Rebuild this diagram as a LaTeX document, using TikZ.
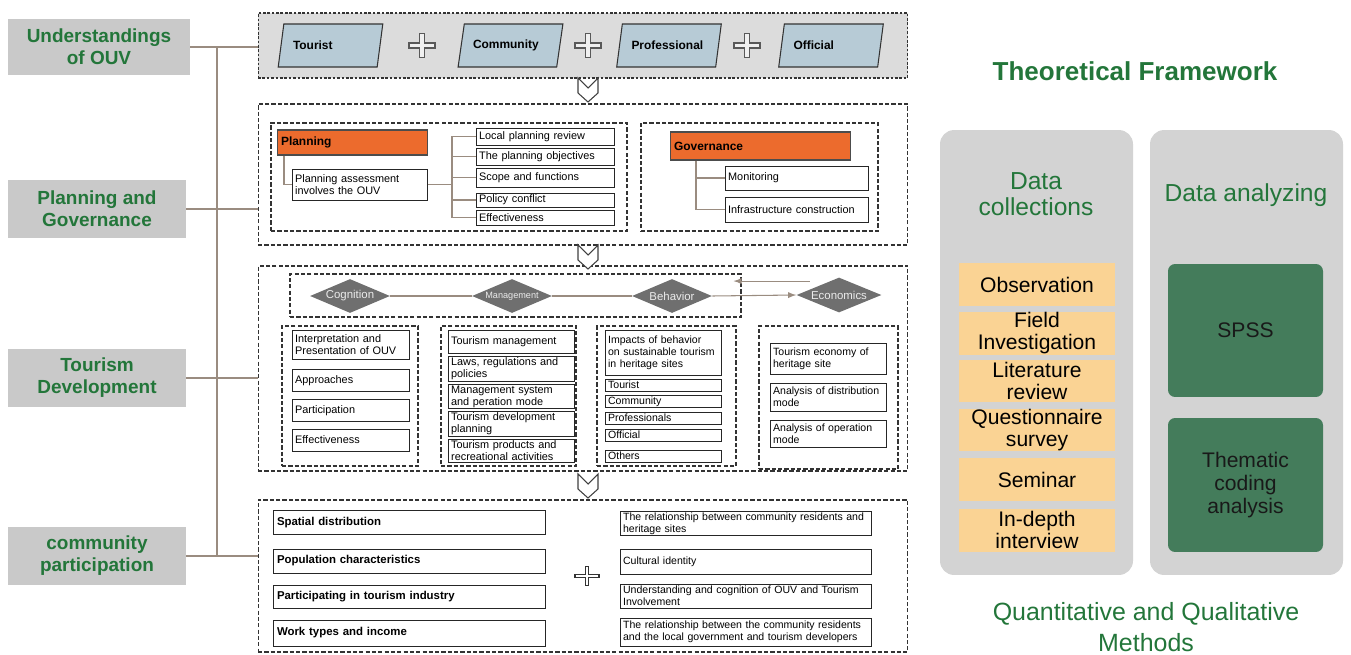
\documentclass[tikz,border=0pt]{standalone}
\usepackage{fontspec}
\setmainfont{Liberation Sans}
\usetikzlibrary{shapes.geometric}
\hyphenpenalty=10000
\exhyphenpenalty=10000

\definecolor{lblgray}{HTML}{C9C9C9}
\definecolor{lblgreen}{HTML}{23763A}
\definecolor{toptint}{HTML}{DCDCDC}
\definecolor{parafill}{HTML}{B7CBD6}
\definecolor{hdorange}{HTML}{EC6B2D}
\definecolor{diagray}{HTML}{6F6F6F}
\definecolor{linkc}{HTML}{9A8C80}
\definecolor{panelgray}{HTML}{D3D3D3}
\definecolor{methorange}{HTML}{FAD394}
\definecolor{methgreen}{HTML}{447C5B}

\begin{document}
\begin{tikzpicture}[x=0.02cm,y=-0.02cm]
        \tikzset{
        lbl/.style={fill=lblgray, text=lblgreen, align=center, inner sep=0pt,
        minimum width=3.56cm, minimum height=1.16cm,
        font=\fontsize{10.8}{12.5}\selectfont\bfseries},
        grp/.style={draw=black!80, line width=0.6pt, dash pattern=on 2.4pt off 1.2pt, inner sep=0pt},
        para/.style={trapezium, trapezium left angle=77, trapezium right angle=103,
        trapezium stretches=true, draw=black!80, line width=0.6pt, fill=parafill,
        minimum width=2.1cm, minimum height=0.86cm, inner xsep=1pt,
        text width=1.5cm, align=left, font=\fontsize{6.8}{8}\selectfont\bfseries},
        hd/.style={fill=hdorange, draw=black!70, line width=0.6pt, anchor=west, align=left,
        inner xsep=2pt, minimum height=0.5cm, font=\fontsize{6.8}{8}\selectfont\bfseries},
        cell/.style={draw=black!85, line width=0.55pt, fill=white, anchor=west, align=left,
        inner xsep=1.5pt, inner ysep=0.6pt, font=\fontsize{6.2}{6.9}\selectfont},
        scell/.style={cell, font=\fontsize{6}{6.9}\selectfont},
        bcell/.style={cell, inner xsep=2pt, font=\fontsize{6.5}{7.5}\selectfont\bfseries},
        dia/.style={diamond, aspect=2.35, fill=diagray, text=black!8, inner sep=0pt,
        minimum width=1.6cm, minimum height=0.68cm, font=\fontsize{6.5}{7}\selectfont},
        tree/.style={draw=linkc, line width=0.6pt},
        trunk/.style={draw=linkc, line width=0.7pt},
        plusc/.style={draw=black!65, fill=black!6, line width=0.6pt},
        chev/.style={draw=black!75, fill=white, line width=0.6pt, line join=miter},
        pan/.style={fill=panelgray, rounded corners=8pt, minimum width=3.86cm, minimum height=8.9cm},
        ttl/.style={text=lblgreen, align=center, font=\fontsize{14}{14.7}\selectfont},
        mo/.style={fill=methorange, minimum width=3.12cm, minimum height=0.86cm, inner sep=0pt,
        align=center, font=\fontsize{12}{12.5}\selectfont},
        mg/.style={fill=methgreen, rounded corners=4pt, minimum width=3.1cm, inner sep=0pt,
        align=center, text=black!90, font=\fontsize{12}{13}\selectfont},
        }
        \useasboundingbox (0,0) rectangle (1351,655);

        % left labels
        \node[lbl, minimum width=3.64cm, minimum height=1.12cm] (und) at (99,47) {Understandings\\of OUV};
        \node[lbl] (plg) at (97,209) {Planning and\\Governance};
        \node[lbl] (tdv) at (97,378) {Tourism\\Development};
        \node[lbl] (cpt) at (97,556) {community\\participation};

        % dashed groups
        \node[grp, fill=toptint, dash pattern=on 1.5pt off 1pt, minimum width=13cm, minimum height=1.3cm] (b1) at (583,45.5) {};
        \node[grp, minimum width=13cm, minimum height=2.82cm] (b2) at (583,174.5) {};
        \node[grp, minimum width=13cm, minimum height=4.1cm] (b3) at (583,368.5) {};
        \node[grp, minimum width=13cm, minimum height=3.04cm] (b4) at (583,576) {};

        \coordinate (trk) at (217,0);
        \draw[trunk] (und.east -| trk) -- (cpt.east -| trk);
        \foreach \l/\b in {und/b1,plg/b2,tdv/b3,cpt/b4}
        \draw[trunk] (\l.east) -- (\l.east -| \b.west);

        % chevrons between the groups
        \foreach \y in {78,245,474}
        \draw[chev] (578,\y) -- (588,\y+10) -- (598,\y) -- (598,\y+15) -- (588,\y+24) -- (578,\y+15) -- cycle;

        % understandings
        \node[para] (tour) at (330.5,45.5) {Tourist};
        \node[para] (comm) at (510.5,45.5) {Community};
        \node[para] (prof) at (669,45.5) {Professional};
        \node[para] (offi) at (831,45.5) {Official};
        \foreach \cx in {422,588,747}
        \draw[plusc] (\cx-13,43) -- ++(10.5,0) -- ++(0,-9.5) -- ++(5,0) -- ++(0,9.5) -- ++(10.5,0) -- ++(0,5)
        -- ++(-10.5,0) -- ++(0,9.5) -- ++(-5,0) -- ++(0,-9.5) -- ++(-10.5,0) -- cycle;

        % planning and governance
        \node[grp, line width=0.7pt, minimum width=7.12cm, minimum height=2.16cm] (pbox) at (449,177) {};
        \node[grp, line width=0.7pt, minimum width=4.74cm, minimum height=2.16cm] (gbox) at (759.5,177) {};
        \node[hd, text width=2.86cm] (plan) at (277,142.5) {Planning};
        \node[cell, text width=2.6cm, minimum height=0.62cm] (pa) at (292,184.5) {Planning assessment\\involves the OUV};
        \node[cell, text width=2.66cm, minimum height=0.34cm] (lpr) at (476,136.5) {Local planning review};
        \node[cell, text width=2.66cm, minimum height=0.34cm] (obj) at (476,156.5) {The planning objectives};
        \node[cell, text width=2.66cm, minimum height=0.38cm] (scope) at (476,177.5) {Scope and functions};
        \node[cell, text width=2.66cm, minimum height=0.28cm] (conf) at (476,200) {Policy conflict};
        \node[cell, text width=2.66cm, minimum height=0.3cm] (effp) at (476,217.5) {Effectiveness};
        \coordinate (pk) at (452,0);
        \draw[tree] ([xshift=0.14cm]plan.south west) |- (pa.west);
        \foreach \b in {lpr,obj,scope,conf,effp}
        \draw[tree] (pa.east) -- (pa.east -| pk) |- (\b.west);

        \node[hd, text width=3.46cm, minimum height=0.56cm] (gov) at (670,146) {Governance};
        \node[cell, text width=2.76cm, minimum height=0.48cm] (mon) at (725,178) {Monitoring};
        \node[cell, text width=2.76cm, minimum height=0.5cm] (infra) at (725,209.5) {Infrastructure construction};
        \draw[tree] ([xshift=0.52cm]gov.south west) |- (mon.west);
        \draw[tree] ([xshift=0.52cm]gov.south west) |- (infra.west);

        % tourism development
        \node[grp, line width=0.7pt, minimum width=9.02cm, minimum height=0.86cm] (dbox) at (515.5,295.5) {};
        \node[dia] (cog) at (350,296) {Cognition};
        \node[dia, font=\fontsize{5.2}{6}\selectfont] (mgt) at (512,296) {Management};
        \node[dia] (beh) at (672,296) {Behavior};
        \node[dia, minimum width=1.7cm, minimum height=0.7cm] (eco) at (839,295) {Economics};
        \draw[tree] (cog.east) -- (mgt.west);
        \draw[tree] (mgt.east) -- (beh.west);
        \draw[tree, -latex] (beh.east) -- (eco.west);
        \draw[tree, -latex] ([xshift=-0.16cm,yshift=0.1cm]eco.north west) -- ([xshift=-0.16cm,yshift=0.1cm]eco.north west -| dbox.east);

        \node[grp, line width=0.7pt, minimum width=2.72cm, minimum height=2.8cm] (ccol) at (350,396) {};
        \node[grp, line width=0.7pt, minimum width=2.7cm, minimum height=2.8cm] (mcol) at (508.5,396) {};
        \node[grp, line width=0.7pt, minimum width=2.78cm, minimum height=2.8cm] (bcol) at (666.5,396) {};
        \node[grp, line width=0.7pt, minimum width=2.78cm, minimum height=2.86cm] (ecol) at (828.5,397.5) {};

        \node[cell, text width=2.24cm, minimum height=0.58cm] (ip) at (292,344.5) {Interpretation and\\Presentation of OUV};
        \node[cell, text width=2.24cm, minimum height=0.44cm] (appr) at (292,380.5) {Approaches};
        \node[cell, text width=2.24cm, minimum height=0.44cm] (part) at (292,410.5) {Participation};
        \node[cell, text width=2.24cm, minimum height=0.44cm] (effc) at (292,440) {Effectiveness};

        \node[cell, text width=2.42cm, minimum height=0.46cm] (tm) at (448,341.5) {Tourism management};
        \node[cell, text width=2.42cm, minimum height=0.46cm] (laws) at (448,369) {Laws, regulations and\\policies};
        \node[cell, text width=2.42cm, minimum height=0.46cm] (msys) at (448,396.5) {Management system\\and peration mode};
        \node[cell, text width=2.42cm, minimum height=0.46cm] (tdp) at (448,424) {Tourism development\\planning};
        \node[cell, text width=2.42cm, minimum height=0.46cm] (tpr) at (448,451) {Tourism products and\\recreational activities};

        \node[scell, text width=2.22cm, minimum height=0.9cm] (imp) at (605,352.5) {Impacts of behavior\\on sustainable tourism\\in heritage sites};
        \foreach \y/\t [count=\i] in {385/Tourist,401.5/Community,418/Professionals,435/Official,456/Others}
        \node[scell, text width=2.22cm, minimum height=0.24cm] (act\i) at (605,\y) {\t};

        \node[scell, text width=2.22cm, minimum height=0.62cm] (tec) at (770,358.5) {Tourism economy of\\heritage site};
        \node[scell, text width=2.22cm, minimum height=0.56cm] (adm) at (770,397) {Analysis of distribution\\mode};
        \node[scell, text width=2.22cm, minimum height=0.54cm] (aom) at (770,434) {Analysis of operation\\mode};

        % community participation
        \node[bcell, text width=5.3cm, minimum height=0.48cm] (sd) at (273,522.5) {Spatial distribution};
        \node[bcell, text width=5.3cm, minimum height=0.48cm] (pc) at (273,561) {Population characteristics};
        \node[bcell, text width=5.3cm, minimum height=0.46cm] (pti) at (273,596.5) {Participating in tourism industry};
        \node[bcell, text width=5.3cm, minimum height=0.52cm] (wti) at (273,633) {Work types and income};
        \node[scell, text width=4.92cm, minimum height=0.46cm] (rch) at (620,523.5) {The relationship between community residents and\\heritage sites};
        \node[scell, text width=4.92cm, minimum height=0.5cm] (cid) at (620,561.5) {Cultural identity};
        \node[scell, text width=4.92cm, minimum height=0.48cm] (uco) at (620,596) {Understanding and cognition of OUV and Tourism\\Involvement};
        \node[scell, text width=4.92cm, minimum height=0.56cm] (rlg) at (620,632) {The relationship between the community residents\\and the local government and tourism developers};
        \draw[plusc, fill=white, draw=black!80] (575,574.5) -- ++(10.5,0) -- ++(0,-8) -- ++(3,0) -- ++(0,8) -- ++(10.5,0) -- ++(0,3)
        -- ++(-10.5,0) -- ++(0,8) -- ++(-3,0) -- ++(0,-8) -- ++(-10.5,0) -- cycle;

        % methods panel
        \node[text=lblgreen, font=\fontsize{14.8}{16}\selectfont\bfseries] (tf) at (1135,71) {Theoretical Framework};
        \node[pan] (dc) at (1036.5,352.5) {};
        \node[pan] (da) at (1246.5,352.5) {};
        \node[ttl] (dct) at (1036,194) {Data\\collections};
        \node[ttl] (dat) at (1246,195) {Data analyzing};
        \foreach \y/\t [count=\i] in {284.5/Observation,333.5/{Field\\Investigation},381/{Literature\\review},
        430/{Questionnaire\\survey},479.5/Seminar,530/{In-depth\\interview}}
        \node[mo] (m\i) at (1037,\y) {\t};
        \node[mg, minimum height=2.66cm] (spss) at (1245.5,330.5) {SPSS};
        \node[mg, minimum height=2.68cm] (tca) at (1245.5,485) {Thematic\\coding\\analysis};
        \node[text=lblgreen, align=center, font=\fontsize{14.2}{17.5}\selectfont] (qq) at (1146,627) {Quantitative and Qualitative\\Methods};
        \end{tikzpicture}
\end{document}
